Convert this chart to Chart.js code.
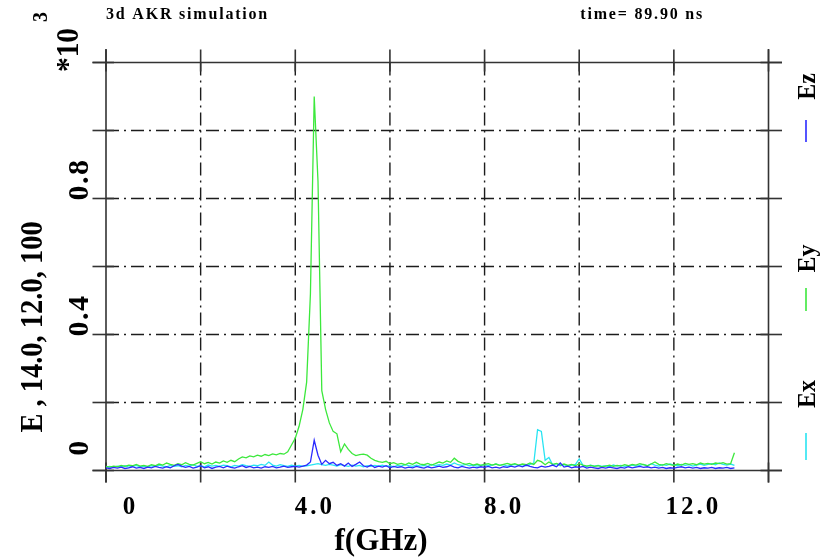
<!DOCTYPE html>
<html><head><meta charset="utf-8">
<script src="https://cdn.jsdelivr.net/npm/chart.js@4.4.0/dist/chart.umd.min.js"></script>
<style>html,body{margin:0;padding:0;background:#fff;}canvas{display:block;}</style>
</head><body>
<canvas id="c" width="827" height="557"></canvas>
<script>
// ---- texts ----
const titleText = "3d AKR simulation";
const timeText = "time= 89.90 ns";
const xAxisTitle = "f(GHz)";
const yAxisTitle = "E , 14.0, 12.0, 100";
const yMultiplier = "*10";
const yExponent = "3";

// ---- axes ----
const xMin = 0, xMax = 14;
const yMin = 0, yMax = 1.2;
const xTickValues = [0, 2, 4, 6, 8, 10, 12, 14];
const xTickLabels = [[0, "0"], [4, "4.0"], [8, "8.0"], [12, "12.0"]];
const yTickValues = [0, 0.2, 0.4, 0.6, 0.8, 1.0, 1.2];
const yTickLabels = [[0, "0"], [0.4, "0.4"], [0.8, "0.8"]];

// ---- series (frequency grid in GHz, values in units of 10^3) ----
const seriesNames = ["Ez", "Ey", "Ex"];
const freqStart = 0, freqStep = 0.08;

const ez = [
 0.008,0.006,0.009,0.007,0.010,0.006,0.008,0.011,0.007,0.009,
 0.006,0.010,0.008,0.012,0.009,0.007,0.011,0.008,0.014,0.018,
 0.013,0.009,0.012,0.007,0.010,0.014,0.008,0.011,0.006,0.010,
 0.012,0.008,0.013,0.009,0.007,0.011,0.014,0.009,0.012,0.008,
 0.010,0.007,0.011,0.009,0.012,0.008,0.010,0.013,0.009,0.011,
 0.012,0.010,0.013,0.016,0.025,0.089,0.045,0.018,0.030,0.020,
 0.024,0.015,0.020,0.013,0.022,0.012,0.018,0.025,0.014,0.010,
 0.016,0.009,0.013,0.010,0.014,0.008,0.012,0.009,0.011,0.007,
 0.010,0.008,0.012,0.009,0.007,0.011,0.008,0.010,0.013,0.009,
 0.011,0.015,0.010,0.008,0.012,0.009,0.007,0.010,0.008,0.011,
 0.009,0.012,0.008,0.010,0.007,0.011,0.009,0.013,0.010,0.014,
 0.011,0.016,0.012,0.009,0.008,0.013,0.010,0.012,0.016,0.011,
 0.022,0.010,0.013,0.008,0.011,0.009,0.012,0.007,0.010,0.008,
 0.006,0.009,0.007,0.010,0.008,0.006,0.009,0.007,0.011,0.008,
 0.010,0.012,0.009,0.011,0.008,0.010,0.007,0.009,0.006,0.008,
 0.007,0.009,0.011,0.008,0.010,0.007,0.009,0.006,0.008,0.007,
 0.009,0.006,0.008,0.007,0.009,0.006,0.008
];

const ey = [
 0.012,0.010,0.013,0.011,0.015,0.012,0.016,0.014,0.018,0.013,
 0.015,0.012,0.017,0.014,0.019,0.016,0.022,0.018,0.015,0.020,
 0.017,0.023,0.018,0.016,0.021,0.026,0.020,0.024,0.019,0.025,
 0.022,0.028,0.024,0.030,0.026,0.034,0.040,0.037,0.043,0.040,
 0.045,0.042,0.047,0.044,0.049,0.046,0.050,0.048,0.055,0.075,
 0.095,0.130,0.180,0.260,0.520,1.100,0.850,0.235,0.180,0.140,
 0.115,0.108,0.055,0.078,0.062,0.050,0.044,0.047,0.048,0.045,
 0.036,0.030,0.026,0.024,0.027,0.020,0.023,0.018,0.021,0.017,
 0.022,0.018,0.024,0.019,0.017,0.021,0.016,0.020,0.025,0.022,
 0.028,0.024,0.036,0.027,0.022,0.018,0.021,0.016,0.019,0.015,
 0.018,0.020,0.016,0.019,0.015,0.018,0.021,0.017,0.020,0.016,
 0.019,0.017,0.022,0.018,0.030,0.026,0.017,0.025,0.018,0.021,
 0.016,0.019,0.015,0.018,0.014,0.020,0.016,0.013,0.015,0.012,
 0.014,0.011,0.013,0.016,0.012,0.015,0.013,0.017,0.014,0.018,
 0.016,0.020,0.017,0.014,0.019,0.025,0.018,0.016,0.020,0.017,
 0.015,0.019,0.016,0.021,0.018,0.020,0.017,0.022,0.019,0.021,
 0.018,0.022,0.020,0.023,0.019,0.020,0.052
];

const ex = [
 0.010,0.012,0.009,0.013,0.011,0.014,0.010,0.012,0.015,0.011,
 0.013,0.010,0.014,0.012,0.016,0.013,0.011,0.015,0.012,0.014,
 0.011,0.015,0.013,0.017,0.012,0.014,0.011,0.016,0.013,0.015,
 0.012,0.016,0.014,0.011,0.015,0.013,0.017,0.014,0.012,0.016,
 0.014,0.018,0.015,0.025,0.016,0.013,0.017,0.014,0.012,0.016,
 0.013,0.015,0.012,0.014,0.016,0.018,0.020,0.017,0.015,0.018,
 0.016,0.013,0.017,0.014,0.012,0.016,0.013,0.015,0.011,0.014,
 0.012,0.015,0.013,0.016,0.012,0.014,0.011,0.015,0.013,0.017,
 0.014,0.012,0.016,0.013,0.015,0.012,0.018,0.014,0.017,0.015,
 0.019,0.016,0.022,0.017,0.015,0.018,0.014,0.016,0.013,0.015,
 0.017,0.014,0.016,0.019,0.015,0.017,0.013,0.016,0.018,0.015,
 0.017,0.014,0.018,0.022,0.120,0.115,0.030,0.038,0.016,0.020,
 0.014,0.017,0.013,0.016,0.018,0.034,0.015,0.012,0.016,0.013,
 0.015,0.012,0.014,0.011,0.016,0.013,0.015,0.012,0.014,0.016,
 0.013,0.015,0.018,0.014,0.020,0.016,0.013,0.017,0.015,0.019,
 0.016,0.014,0.018,0.015,0.017,0.013,0.016,0.019,0.015,0.018,
 0.020,0.017,0.022,0.018,0.016,0.019,0.015
];

const seriesColors = ["#2a2aff", "#3ce83c", "#28e4f2"];
const seriesValues = [ez, ey, ex];
const freqs = ey.map((_, i) => +(freqStart + i * freqStep).toFixed(2));

const FONT = '"Liberation Serif", "Times New Roman", serif';

function drawText(ctx, s, x, y, opts) {
  ctx.save();
  ctx.translate(x, y);
  if (opts.rot) ctx.rotate(opts.rot);
  if (opts.sx) ctx.scale(opts.sx, 1);
  ctx.font = opts.font;
  ctx.letterSpacing = (opts.spacing || 0) + 'px';
  ctx.textAlign = opts.align || 'center';
  ctx.textBaseline = opts.baseline || 'alphabetic';
  ctx.fillStyle = '#000';
  ctx.fillText(s, 0, 0);
  ctx.restore();
}

const framePlugin = {
  id: 'frame',
  beforeDatasetsDraw(chart) {
    const { ctx, chartArea: a, scales: { x, y } } = chart;
    const L = a.left, R = a.right, T = a.top, B = a.bottom;
    ctx.save();
    // dash-dot grid lines
    ctx.strokeStyle = '#1c1c1c';
    ctx.lineWidth = 1.4;
    ctx.setLineDash([13, 5, 2, 5]);
    for (const v of xTickValues) {
      if (v === xMin || v === xMax) continue;
      const px = x.getPixelForValue(v);
      ctx.beginPath(); ctx.moveTo(px, T); ctx.lineTo(px, B); ctx.stroke();
    }
    for (const v of yTickValues) {
      if (v === yMin || v === yMax) continue;
      const py = y.getPixelForValue(v);
      ctx.beginPath(); ctx.moveTo(L, py); ctx.lineTo(R, py); ctx.stroke();
    }
    ctx.setLineDash([]);
    // frame
    ctx.strokeStyle = '#333';
    ctx.lineWidth = 1.6;
    const seg = (x1, y1, x2, y2) => { ctx.beginPath(); ctx.moveTo(x1, y1); ctx.lineTo(x2, y2); ctx.stroke(); };
    seg(L - 13.5, T, R + 13.5, T);
    seg(L - 13.5, B, R + 13.5, B);
    seg(L, T - 13.5, L, B + 12);
    seg(R, T - 13.5, R, B + 12);
    for (const v of xTickValues) {
      const px = x.getPixelForValue(v);
      seg(px, T - 13, px, T + 9);
      seg(px, B - 8, px, B + 12);
    }
    for (const v of yTickValues) {
      const py = y.getPixelForValue(v);
      seg(L - 13.5, py, L + 8, py);
      seg(R - 8, py, R + 13.5, py);
    }
    ctx.restore();
  },
  afterDraw(chart) {
    const { ctx, chartArea: a, scales: { x, y } } = chart;
    const up = -Math.PI / 2;
    // titles
    drawText(ctx, titleText, 106, 18.5, { font: 'bold 16px ' + FONT, spacing: 1.8, align: 'left' });
    drawText(ctx, timeText, 704, 18.5, { font: 'bold 16px ' + FONT, spacing: 1.8, align: 'right' });
    // x tick labels
    for (const [v, s] of xTickLabels) {
      const px = x.getPixelForValue(v) + (s.length === 1 ? 23 : 18) + 1.5;
      drawText(ctx, s, px, 513.5, { font: 'bold 25px ' + FONT, spacing: 3 });
    }
    drawText(ctx, xAxisTitle, 381, 550, { font: 'bold 31px ' + FONT });
    // y tick labels (rotated)
    for (const [v, s] of yTickLabels) {
      const py = y.getPixelForValue(v) - (s.length === 1 ? 23 : 19);
      drawText(ctx, s, 88, py, { font: 'bold 30px ' + FONT, spacing: 1.5, rot: up });
    }
    drawText(ctx, yAxisTitle, 41.5, 327, { font: 'bold 32px ' + FONT, rot: up, sx: 0.89 });
    drawText(ctx, yMultiplier, 78, 50, { font: 'bold 32px ' + FONT, rot: up, sx: 0.92 });
    drawText(ctx, yExponent, 47, 17, { font: 'bold 20px ' + FONT, rot: up });
    // legend on the right
    const legendText = [86.5, 258.5, 394];
    const legendLine = [[120, 142], [288, 311], [433, 460]];
    chart.data.datasets.forEach((ds, i) => {
      drawText(ctx, ds.label, 815, legendText[i], { font: 'bold 26px ' + FONT, rot: up, sx: 0.92 });
      ctx.save();
      ctx.strokeStyle = ds.borderColor;
      ctx.lineWidth = 1.6;
      ctx.beginPath(); ctx.moveTo(806, legendLine[i][0]); ctx.lineTo(806, legendLine[i][1]); ctx.stroke();
      ctx.restore();
    });
  }
};

new Chart(document.getElementById('c'), {
  type: 'line',
  data: {
    datasets: seriesNames.map((name, k) => ({
      label: name,
      data: freqs.map((f, i) => ({ x: f, y: seriesValues[k][i] })),
      borderColor: seriesColors[k],
      borderWidth: 1.3,
      pointRadius: 0,
      tension: 0,
      fill: false
    }))
  },
  options: {
    responsive: false,
    animation: false,
    devicePixelRatio: 1,
    layout: { padding: { left: 106, right: 58.5, top: 62.5, bottom: 86.5 } },
    scales: {
      x: { type: 'linear', min: xMin, max: xMax, display: false },
      y: { type: 'linear', min: yMin, max: yMax, display: false }
    },
    plugins: { legend: { display: false }, tooltip: { enabled: false } }
  },
  plugins: [framePlugin]
});
</script>
</body></html>
